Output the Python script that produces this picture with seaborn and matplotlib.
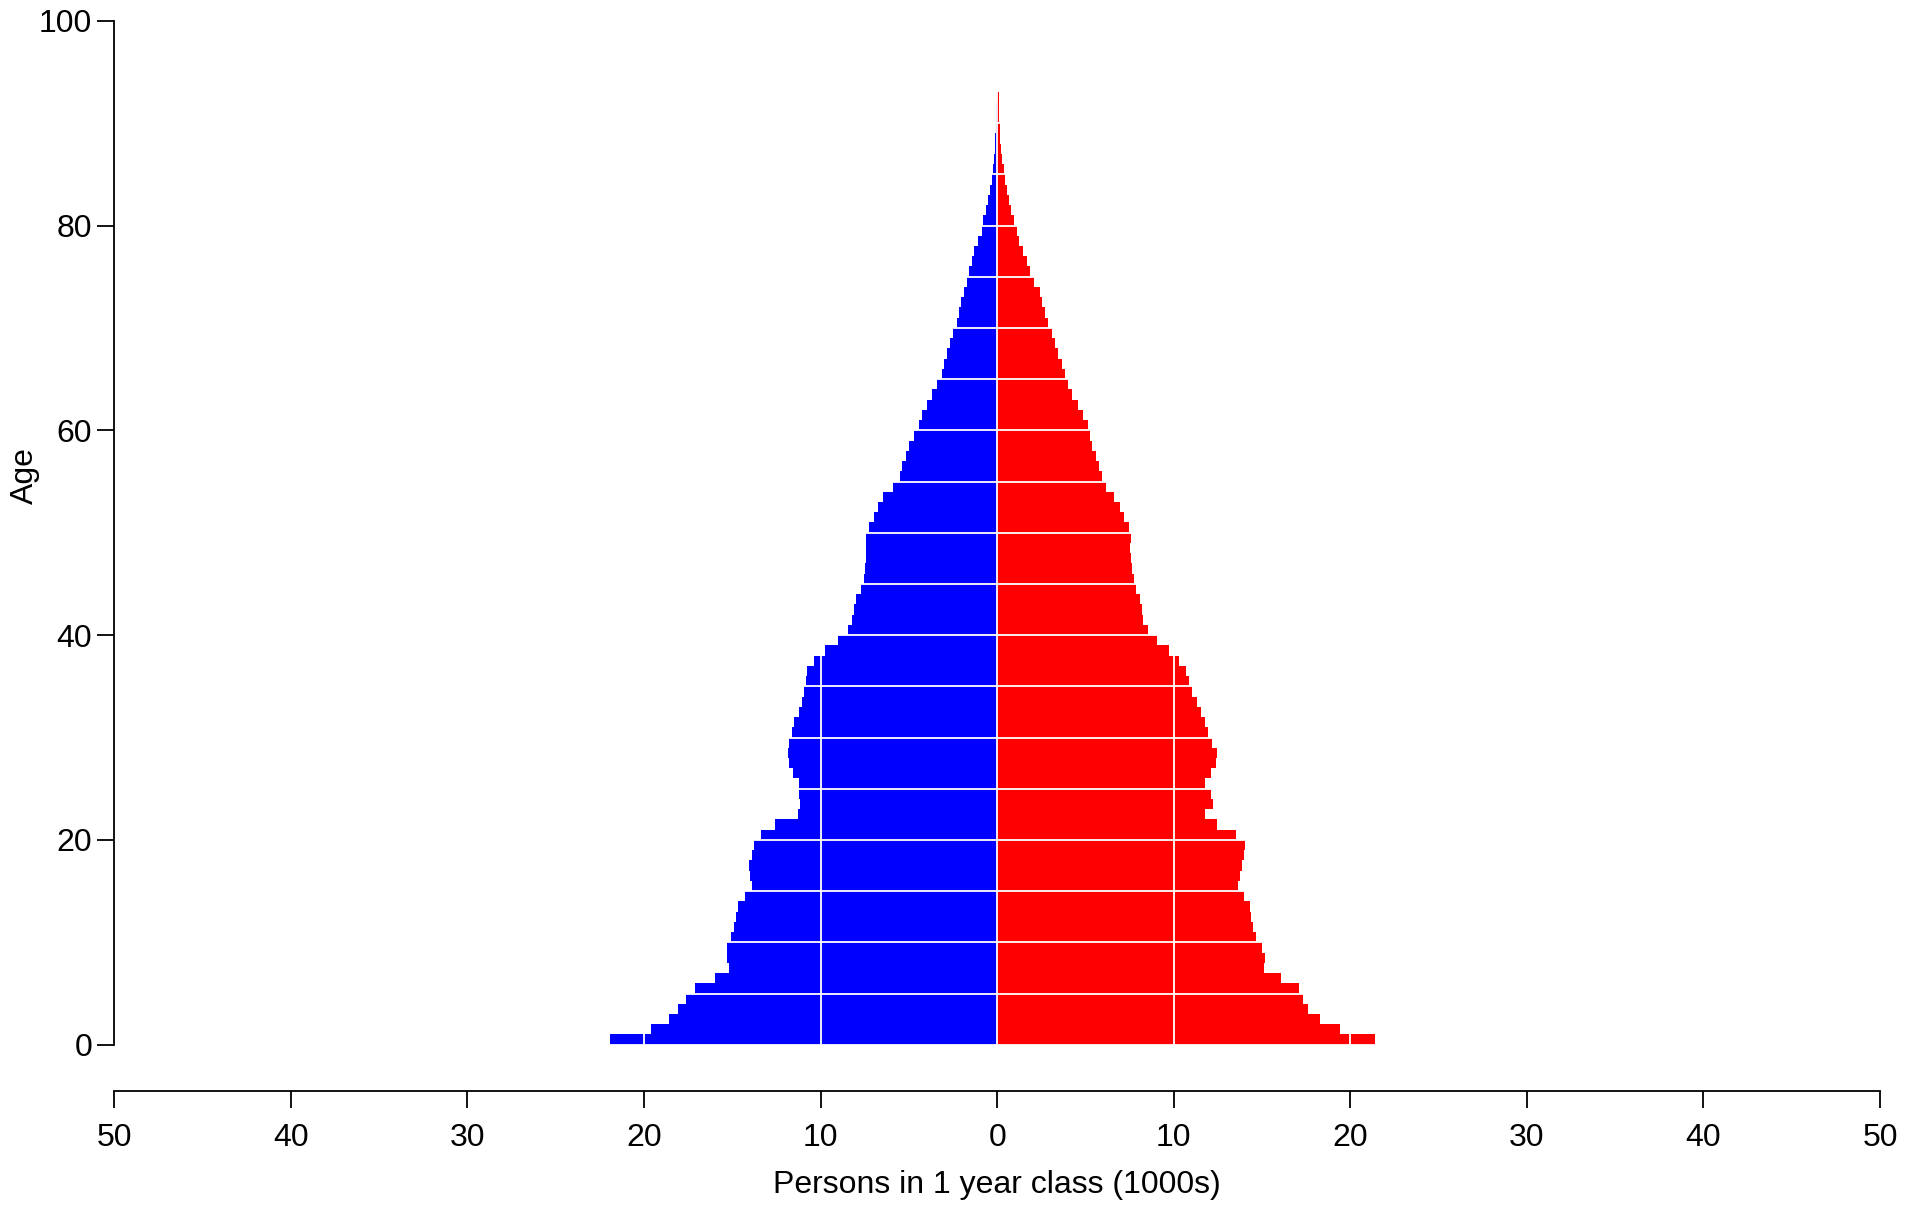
import numpy as np
import pandas as pd
import matplotlib
matplotlib.use("Agg")
import matplotlib.pyplot as plt
import seaborn as sns

# ---------------- data (1000s of persons per 1-year age class) ----------------
ages = list(range(0, 93))
male = [21.9, 19.6, 18.6, 18.1, 17.6, 17.1, 16.0, 15.2, 15.3, 15.3,
        15.1, 14.9, 14.8, 14.7, 14.3, 13.9, 14.0, 14.05, 13.9, 13.75,
        13.4, 12.6, 11.3, 11.15, 11.25, 11.2, 11.55, 11.8, 11.85, 11.8,
        11.6, 11.5, 11.25, 11.05, 10.95, 10.85, 10.75, 10.35, 9.75, 9.0,
        8.45, 8.2, 8.1, 8.0, 7.7, 7.55, 7.5, 7.42, 7.42, 7.42,
        7.25, 6.95, 6.75, 6.45, 5.9, 5.5, 5.4, 5.15, 5.0, 4.7,
        4.45, 4.25, 3.95, 3.7, 3.4, 3.15, 3.0, 2.85, 2.65, 2.5,
        2.3, 2.15, 2.05, 1.87, 1.7, 1.6, 1.42, 1.3, 1.08, 0.85,
        0.8, 0.62, 0.5, 0.4, 0.28, 0.23, 0.17, 0.15, 0.11, 0.08,
        0.07, 0.06, 0.02]
female = [21.4, 19.4, 18.3, 17.6, 17.3, 17.1, 16.1, 15.1, 15.15, 15.0,
          14.65, 14.5, 14.4, 14.3, 14.0, 13.65, 13.75, 13.85, 14.0, 14.05,
          13.5, 12.45, 11.75, 12.25, 12.1, 11.75, 12.1, 12.4, 12.45, 12.15,
          11.95, 11.75, 11.55, 11.3, 11.05, 10.85, 10.7, 10.3, 9.75, 9.05,
          8.55, 8.25, 8.2, 8.1, 7.85, 7.75, 7.65, 7.6, 7.55, 7.6,
          7.45, 7.2, 6.95, 6.6, 6.15, 5.95, 5.75, 5.6, 5.4, 5.25,
          5.15, 4.85, 4.6, 4.25, 4.0, 3.85, 3.7, 3.45, 3.3, 3.1,
          2.9, 2.7, 2.55, 2.4, 2.1, 1.87, 1.7, 1.47, 1.25, 1.13,
          0.96, 0.8, 0.68, 0.57, 0.45, 0.4, 0.28, 0.23, 0.17, 0.14,
          0.12, 0.1, 0.1]

x_ticks = [-50, -40, -30, -20, -10, 0, 10, 20, 30, 40, 50]
x_tick_labels = ["50", "40", "30", "20", "10", "0", "10", "20", "30", "40", "50"]
y_ticks = [0, 20, 40, 60, 80, 100]
v_grid = [-20, -10, 0, 10, 20]
h_grid = list(range(0, 101, 5))

# ---------------- figure ----------------
sns.set_style("ticks")
plt.rcParams["font.family"] = ["Liberation Sans", "DejaVu Sans"]
plt.rcParams["text.color"] = "black"
plt.rcParams["axes.labelcolor"] = "black"

W, H = 1907, 1206
fig = plt.figure(figsize=(W / 100, H / 100), dpi=100)
left_px, right_px = 114.3, 1880.0
top_px, bottom_px = 20.7, 1091.0
ax = fig.add_axes([left_px / W, (H - bottom_px) / H,
                   (right_px - left_px) / W, (bottom_px - top_px) / H])

age_arr = np.array(ages, dtype=float)
df_m = pd.DataFrame({"age": age_arr + 0.5, "value": -np.array(male)})
df_f = pd.DataFrame({"age": age_arr + 0.5, "value": np.array(female)})

sns.barplot(data=df_m, x="value", y="age", orient="h", native_scale=True,
            width=1.0, color="#0000FF", saturation=1, linewidth=0,
            errorbar=None, ax=ax)
sns.barplot(data=df_f, x="value", y="age", orient="h", native_scale=True,
            width=1.0, color="#FF0000", saturation=1, linewidth=0,
            errorbar=None, ax=ax)
for p in ax.patches:
    p.set_antialiased(False)
    p.set_zorder(1)

for gx in v_grid:
    ax.axvline(gx, color="white", lw=1.3, zorder=2)
for gy in h_grid:
    ax.axhline(gy, color="white", lw=1.3, zorder=2)

ax.set_xlim(-50, 50)
ax.set_ylim(-(bottom_px - 1044.7) / 10.24, 100)

ax.set_xticks(x_ticks)
ax.set_xticklabels(x_tick_labels)
ax.set_yticks(y_ticks)

for s in ["top", "right"]:
    ax.spines[s].set_visible(False)
ax.spines["left"].set_bounds(0, 100)
ax.spines["bottom"].set_bounds(-50, 50)
for s in ["left", "bottom"]:
    ax.spines[s].set_linewidth(1.3)
    ax.spines[s].set_color("black")
    ax.spines[s].set_zorder(3)

ax.tick_params(axis="both", direction="out", length=12, width=1.3,
               labelsize=23, colors="black", labelcolor="black")
ax.tick_params(axis="x", pad=11)
ax.tick_params(axis="y", pad=4)

ax.set_xlabel("Persons in 1 year class (1000s)", fontsize=23, va="center",
              color="black")
ax.set_ylabel("Age", fontsize=23, va="center", color="black")
ax.xaxis.set_label_coords(0.5, (bottom_px - 1185) / (bottom_px - top_px))
ax.yaxis.set_label_coords((25 - left_px) / (right_px - left_px),
                          (bottom_px - 476) / (bottom_px - top_px))

ax.set_facecolor("white")
fig.patch.set_facecolor("white")
fig.savefig("out.png", dpi=100)
